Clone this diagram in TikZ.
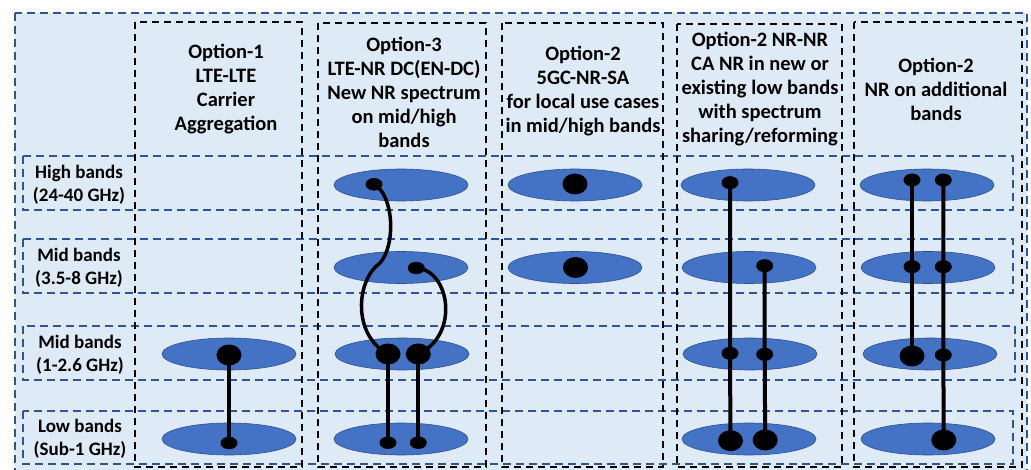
\documentclass[tikz,border=0pt]{standalone}
\usepackage{fontspec}
\setmainfont{Carlito}
\usetikzlibrary{shapes.geometric}
\definecolor{panel}{HTML}{DEEAF6}
\definecolor{bandfill}{HTML}{4472C4}
\definecolor{bandline}{HTML}{2F528F}
\definecolor{rowline}{HTML}{2F5597}

\begin{document}
\begin{tikzpicture}[x=1pt,y=-1pt,
  outerbox/.style={draw=rowline, line width=1.5pt, dash pattern=on 8pt off 5pt, fill=panel},
  rowbox/.style={draw=rowline, line width=1.5pt, dash pattern=on 8pt off 5pt},
  colbox/.style={draw=black, line width=2pt, dash pattern=on 7pt off 5pt},
  head/.style={align=center, font=\bfseries\fontsize{20.5}{24}\selectfont, inner sep=0pt},
  rowlabel/.style={align=center, font=\bfseries\fontsize{19}{23}\selectfont, inner sep=0pt},
  band/.style={ellipse, draw=bandline, line width=0.6pt, fill=bandfill, minimum width=134pt, minimum height=32pt, inner sep=0pt},
  dotS/.style={ellipse, fill=black, minimum width=17pt, minimum height=12.5pt, inner sep=0pt},
  dotM/.style={ellipse, fill=black, minimum width=17pt, minimum height=13pt, inner sep=0pt},
  dotL/.style={ellipse, fill=black, minimum width=25pt, minimum height=21pt, inner sep=0pt},
  vlink/.style={line width=4pt},
  curvelink/.style={line width=3.5pt, line join=round}
]
\useasboundingbox (0,0) rectangle (1031,470);

% frame and grid of bands / options
\path[outerbox] (15,13) rectangle (1027,480);
\draw[rowbox] (23,156) rectangle (1013,210);
\draw[rowbox] (23,239) rectangle (1013,293);
\draw[rowbox] (23,326) rectangle (1015,380);
\draw[rowbox] (23,411) rectangle (1013,464);
\draw[colbox] (135,22) rectangle (302,467);
\draw[colbox] (318,23) rectangle (486,467);
\draw[colbox] (502,23) rectangle (663,467);
\draw[colbox] (677,24) rectangle (842,467);
\draw[colbox] (854,22) rectangle (1022,467);

% column headings
\node[head] (h1) at (226,89) {Option-1\\LTE-LTE\\Carrier\\Aggregation};
\node[head] (h2) at (404,92) {Option-3\\LTE-NR DC(EN-DC)\\New NR spectrum\\on mid/high\\bands};
\node[head] (h3) at (583,91) {Option-2\\5GC-NR-SA\\for local use cases\\in mid/high bands};
\node[head] (h4) at (760,89) {Option-2 NR-NR\\CA NR in new or\\existing low bands\\with spectrum\\sharing/reforming};
\node[head] (h5) at (936,89) {Option-2\\NR on additional\\bands};

% row labels
\node[rowlabel] (r1) at (79,184.5) {High bands\\(24-40 GHz)};
\node[rowlabel] (r2) at (79,267.5) {Mid bands\\(3.5-8 GHz)};
\node[rowlabel] (r3) at (80,354.5) {Mid bands\\(1-2.6 GHz)};
\node[rowlabel] (r4) at (80,439) {Low bands\\(Sub-1 GHz)};

% spectrum bands
\node[band] (b1c) at (229,354) {};
\node[band] (b1d) at (229,439) {};
\node[band] (b2a) at (401,185) {};
\node[band] (b2b) at (401,267.5) {};
\node[band] (b2c) at (402,354) {};
\node[band] (b2d) at (401,439) {};
\node[band] (b3a) at (575,185) {};
\node[band] (b3b) at (575,267.5) {};
\node[band] (b4a) at (748,185) {};
\node[band] (b4b) at (749,267.5) {};
\node[band] (b4c) at (750,354) {};
\node[band] (b4d) at (749,439) {};
\node[band] (b5a) at (927,185) {};
\node[band] (b5b) at (928,267.5) {};
\node[band] (b5c) at (930,354) {};
\node[band] (b5d) at (928,439) {};

% carrier dots
\node[dotL] (p1c) at (229,355) {};
\node[dotS] (p1d) at (229,443) {};

\node[dotS] (p2h) at (374,184.3) {};
\node[dotS] (p2m) at (416.3,268) {};
\node[dotL] (p2l) at (388,354) {};
\node[dotL] (p2r) at (418.3,354) {};
\node[dotS] (p2x) at (388,442.7) {};
\node[dotS] (p2y) at (418.3,442.7) {};

\node[dotL] (p3a) at (575,184) {};
\node[dotL] (p3b) at (575.5,267.5) {};

\node[dotM] (p4a) at (730,182.7) {};
\node[dotM] (p4m) at (730,353.3) {};
\node[dotL] (p4l) at (730.5,440.7) {};
\node[dotM] (p4b) at (764.7,265.7) {};
\node[dotM] (p4n) at (764.7,354.3) {};
\node[dotL] (p4r) at (765.2,440) {};

\node[dotM] (p5a) at (912,180) {};
\node[dotM] (p5b) at (943.3,180) {};
\node[dotM] (p5c) at (912,266.7) {};
\node[dotM] (p5d) at (943.3,266.7) {};
\node[dotL] (p5e) at (912,356) {};
\node[dotM] (p5f) at (943.3,355) {};
\node[dotL] (p5g) at (943.8,440) {};

% aggregation links
\draw[vlink] (p1c.center) -- (p1d.center);

\coordinate (k2) at (380,263);
\draw[curvelink] (p2h.center) .. controls (394,195) and (396,245) .. (k2)
  .. controls (356,280) and (352,335) .. (p2l.center);
\draw[curvelink] (p2m.center) .. controls (450,270) and (460,335) .. (p2r.center);
\draw[vlink] (p2l.center) -- (p2x.center);
\draw[vlink] (p2r.center) -- (p2y.center);

\draw[vlink] (p4a.center) -- (p4m.center) -- (p4l.center);
\draw[vlink] (p4b.center) -- (p4n.center) -- (p4r.center);

\draw[vlink] (p5a.center) -- (p5c.center) -- (p5e.center);
\draw[vlink] (p5b.center) -- (p5d.center) -- (p5f.center) -- (p5g.center);
\end{tikzpicture}
\end{document}
